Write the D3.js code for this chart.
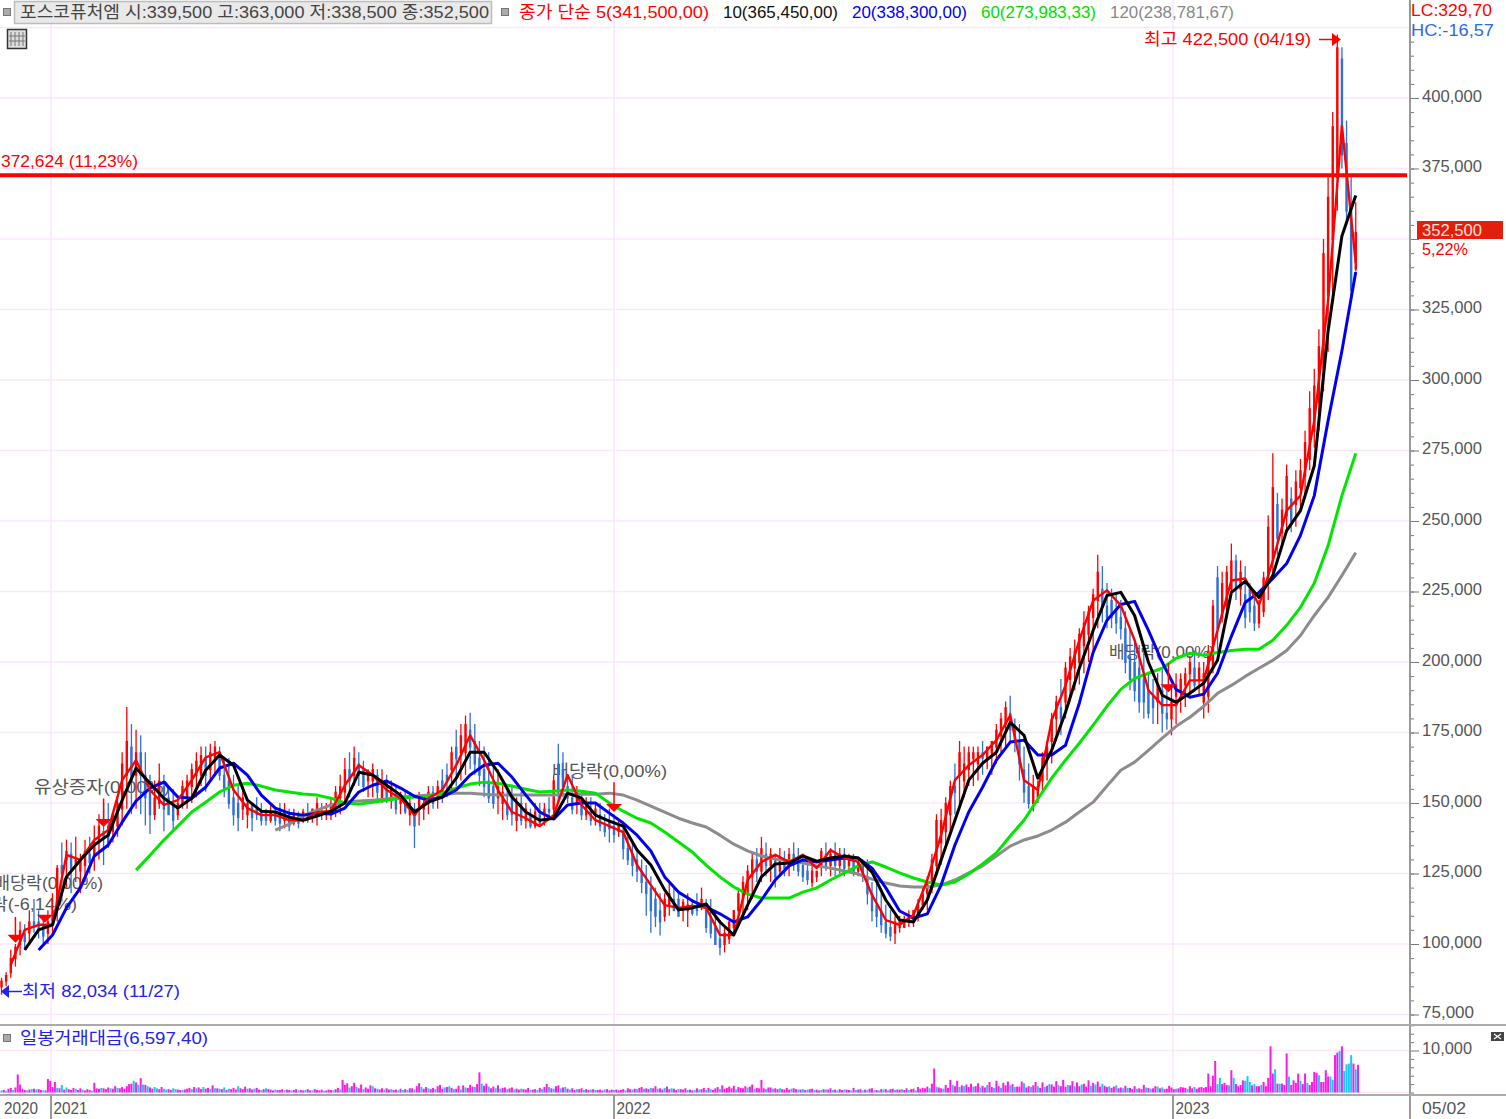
<!DOCTYPE html>
<html>
<head>
<meta charset="utf-8">
<script src="https://d3js.org/d3.v7.min.js"></script>
<style>
  body { margin: 0; background: #fff; }
  svg { display: block; }
  text { font-family: "Liberation Sans", "Noto Sans CJK KR", sans-serif; font-size: 17px; }
</style>
</head>
<body>
<svg id="chart" width="1506" height="1119"></svg>
<script>
// prices are in thousands of won, one candle every 3 calendar days
const highs = [
  88,90,98,100,108,107,112,116,112,110, 112,118,128,136,137,136,138,132,137,138,
  142,146,150,150,146,152,168,184,178,176, 174,168,160,158,164,160,156,155,152,158,
  160,164,168,170,170,171,172,170,166,166, 160,156,156,152,150,152,150,148,150,148,
  150,150,148,148,147,148,150,148,152,150, 150,152,156,160,166,168,170,168,165,162,
  164,162,162,160,158,156,154,154,152,150, 154,152,156,156,158,162,164,170,176,178,
  181,182,178,172,170,168,164,162,158,156, 156,152,154,150,148,150,150,150,152,160,
  171,168,160,160,156,154,152,152,150,150, 146,148,146,144,142,138,136,134,130,128,
  124,120,118,118,122,120,118,116,118,116, 118,120,116,116,112,108,106,108,112,120,
  124,128,132,134,138,136,134,132,134,133, 134,136,134,132,130,128,126,134,136,134,
  136,134,134,132,132,130,130,130,122,122, 118,114,112,110,110,110,112,112,116,120,
  124,132,146,148,152,158,164,172,170,170, 170,170,172,170,172,178,182,186,188,180,
  178,170,164,160,158,168,172,182,188,194, 200,205,208,212,218,220,226,238,234,228,
  226,224,222,218,212,208,206,204,196,194, 196,198,190,192,196,196,198,202,204,200,
  200,206,222,234,232,234,242,238,236,234, 228,224,222,232,252,274,260,258,270,262,
  268,272,282,296,304,318,350,372,395,422.5, 418,392,372,363
];
const lows = [
  82,85,88,92,96,98,100,104,102,100, 100,103,108,115,120,118,122,118,122,125,
  126,130,128,134,136,138,142,148,146,148, 146,142,139,144,148,140,146,140,144,148,
  148,150,152,156,154,158,160,158,152,148, 142,140,144,141,140,144,142,142,143,142,
  140,141,140,142,141,143,143,143,142,144, 144,144,145,146,150,152,156,156,154,152,
  152,150,150,150,148,146,146,146,142,134, 142,144,146,148,148,150,152,154,156,158,
  160,162,160,156,152,150,148,146,144,144, 142,140,142,141,141,141,142,142,144,146,
  150,152,150,146,146,144,144,142,142,140, 138,136,136,138,130,128,124,122,118,110,
  104,106,103,108,110,112,112,108,106,110, 110,112,104,102,100,96,97,100,104,108,
  110,112,116,122,122,124,122,120,124,124, 124,126,124,122,121,120,122,124,126,124,
  124,125,124,126,124,124,122,114,108,106, 104,102,101,100,104,106,106,106,108,112,
  112,118,124,128,134,140,146,148,152,156, 156,158,160,162,160,164,168,170,172,168,
  158,150,148,147,150,154,158,164,172,174, 180,186,190,192,196,200,204,212,214,212,
  212,210,208,196,190,186,182,180,180,178, 178,175,176,174,178,182,184,188,190,188,
  180,182,196,204,214,218,224,222,220,212, 214,211,212,216,222,232,238,242,246,246,
  248,254,258,268,276,282,296,310,330,360, 375,355,328,338.5
];
const opens = [
  85,87,90,95,100,104,104,108,108,107, 104,108,112,128,130,132,128,126,128,132,
  132,136,140,142,140,142,148,160,170,160, 168,160,155,146,150,156,152,150,146,150,
  152,156,160,160,166,162,166,166,160,158, 152,150,148,146,150,148,147,147,144,147,
  148,144,146,143,146,144,146,146,146,147, 146,146,148,152,154,162,160,164,162,158,
  158,160,152,158,152,154,150,152,146,148, 148,148,150,154,152,158,160,162,170,168,
  168,176,172,166,162,158,156,152,150,150, 152,144,150,144,146,142,146,146,148,148,
  164,162,156,152,150,150,146,148,146,146, 142,144,142,140,140,134,132,130,126,122,
  120,116,112,110,114,116,116,112,112,114, 114,114,112,110,106,102,100,102,106,112,
  116,118,124,130,126,132,128,130,126,130, 128,132,130,128,126,122,124,128,132,128,
  132,128,132,128,130,126,128,124,118,114, 112,108,106,104,106,106,108,108,110,114,
  118,122,128,136,140,146,156,160,158,162, 166,164,168,166,168,170,174,178,182,176,
  172,162,156,150,152,158,166,172,180,184, 186,194,198,200,206,210,216,222,226,220,
  222,218,216,212,202,200,198,194,190,188, 186,190,182,180,188,190,192,196,198,194,
  186,188,198,230,216,220,226,236,226,224, 226,220,214,218,228,236,256,246,252,258,
  256,262,266,272,282,292,304,330,350,372, 414,384,360,339.5
];
const closes = [
  87,89,95,99,105,101,108,106,105,103, 108,112,127,125,133,127,130,130,133,129,
  136,142,138,136,146,150,164,172,158,168, 160,152,146,152,158,148,146,144,150,156,
  158,162,165,167,160,168,170,160,155,150, 146,145,152,150,145,146,144,144,147,144,
  143,147,142,146,143,147,144,148,150,146, 147,150,154,156,162,158,166,160,156,160,
  162,154,158,152,156,148,152,147,150,142, 152,150,154,150,156,154,158,168,166,174,
  178,170,164,160,156,152,150,156,154,146, 146,150,144,148,142,147,143,148,147,158,
  154,156,152,148,154,146,150,144,148,142, 140,141,139,142,134,130,128,126,122,118,
  112,110,108,116,118,112,110,115,114,111, 112,116,106,104,100,99,104,108,112,118,
  122,126,130,126,134,128,132,124,131,127, 132,130,126,124,123,126,126,133,128,132,
  128,132,127,131,126,129,124,118,112,110, 107,104,103,108,108,109,110,112,114,118,
  122,130,144,144,150,156,154,168,164,168, 168,168,166,170,172,176,180,184,176,172,
  164,154,150,156,156,166,170,180,186,180, 198,202,204,210,214,218,224,232,220,216,
  216,214,212,200,194,190,186,186,182,184, 192,182,180,186,192,194,196,200,192,198,
  196,204,220,212,228,232,236,226,232,216, 218,214,220,230,248,262,244,254,266,250,
  264,268,278,290,298,312,345,365,390,418, 380,360,332,352.5
];

// moving averages, one reading every third candle (null until the average starts)
const ma5 = [
  92.6,105,106.8,106.8,131.6,129.8,136.9,140.4,158.1,165.2,
  154.6,149.3,151,158.1,166.2,168,154.6,148.2,145.7,145.7,
  143.9,143.9,146.8,147.1,156.3,163.4,159.9,154.6,151.7,145.7,
  151.7,154.6,163.4,174,165.2,154.6,146.8,144.6,141.8,145.7,
  159.9,149.3,143.9,141.8,139.7,128,120.9,113.8,112.8,113.5,
  112.8,103.2,103.2,122.7,129.1,131.6,129.1,131.6,126.9,133.3,
  130.5,129.1,117.4,108.5,106.8,110.3,122.7,138.6,158.1,163.4,
  167,172.3,181.1,158.1,154.6,179.3,191.7,207.7,221.8,225.4,
  220.1,207.7,190,184.7,184.7,193.5,193.5,211.2,228.9,229.6,
  220.1,236,253.7,259,285.6,328.1,390.1,341.5
];
const ma10 = [
  null,97.9,105,106.8,123.8,129.8,135.1,138.6,151,162.4,
  157,151.7,148.2,151.7,161.6,167,163.4,151,147.1,146.8,
  145,143.9,145.4,147.1,150,160.9,159.9,156.3,152.8,146.8,
  150.3,152.1,158.8,168,168,160.9,152.1,146.8,143.9,144.6,
  153.5,151.7,145.7,143.6,141.8,133.3,128,119.2,112.1,112.8,
  114.2,107.8,103.2,113.8,123.8,128.4,128.7,131.2,129.4,130.5,
  131.2,130.5,125.5,115.6,108.5,107.8,115.6,129.8,143.9,158.1,
  164.1,168,178.6,174,158.8,168.7,182.2,197.8,211.2,223.6,
  224.7,216.5,199.9,188.2,185.7,188.9,192.5,200.6,224.7,228.6,
  222.9,230.7,246.6,253.7,269.6,317.4,351.1,365.45
];
const ma20 = [
  null,null,97.9,103.2,112.8,119.9,131.2,135.1,143.2,150.7,
  155.3,157.4,152.1,151.7,155.6,162.4,164.1,159.9,152.8,148.2,
  146.4,145.7,146.4,146.1,148.2,153.9,156.3,157.8,155.3,152.4,
  151,152.1,154.6,159.9,163.4,164.1,159.2,152.8,146.8,144.3,
  149.3,150,150,146.4,142.9,138.6,133,123.8,118.4,115.3,
  113.1,110.7,107.8,109.6,115.6,122.7,127.7,129.8,129.1,129.8,
  130.5,130.5,126.9,119.9,111.7,109.2,110.7,120.9,135.1,146.8,
  155.6,165.2,171.6,172.3,167,167,170.5,185.4,203.4,214.8,
  220.4,221.5,211.2,199.9,190.3,187.5,188.6,196,209.1,221.1,
  224.7,229.6,234.9,244.9,259,285.6,310.4,338.3
];
const ma60 = [
  null,null,null,null,null,null,null,null,null,126.2,
  131.5,136.9,141.8,146.8,150.3,153.9,156.3,157,156,154.6,
  153.9,153.2,152.8,151.7,150,149.6,150.3,151,151.7,152.1,
  152.4,153.5,155.3,156.7,157.4,157,156,154.9,153.9,154.2,
  154.6,154.2,153.5,150,147.1,144.6,142.9,139.7,136.2,132.6,
  128,123.8,120.2,117.7,116.3,116.3,116.3,118.4,119.9,122.7,
  125.2,127.7,129.1,127.3,125.2,123.4,122,120.9,122,124.8,
  128.4,132.3,138.3,143.9,151.4,158.8,165.2,171.2,177.6,184.3,
  190.3,194.2,196,197.8,201.3,203.1,202.4,203.4,204.1,204.5,
  204.5,207.7,213,219.4,227.9,241.3,259,273.98
];
const ma120 = [
  null,null,null,null,null,null,null,null,null,null,
  null,null,null,null,null,null,null,null,null,140.4,
  142.5,145.4,147.5,149.3,150.3,150.7,151,151.4,152.1,152.4,
  152.8,153.1,153.5,153.5,153.1,152.8,152.8,152.8,152.8,152.8,
  153.1,153.1,153.1,153.5,152.8,151,148.9,146.8,144.6,142.9,
  141.5,138.6,135.4,133,131.2,130.1,129.4,128.7,127.7,126.9,
  125.9,124.8,123,121.6,120.6,120.2,120.2,120.9,122.7,125.2,
  127.7,131.2,134.7,136.9,138.3,140.4,143.2,146.8,150.3,156,
  161.6,164.5,168.7,173,177.2,180.4,184.3,188.9,191.7,194.9,
  197.8,200.6,204.1,209.4,216.5,222.9,230.7,238.78
];

// daily trading value, negative means a falling day (cyan bar)
const volumes = [
  -500,600,-400,900,1100,-600,1200,4300,1900,900,600,-500,700,-800,900,-700,800,600,-500,500,
  3200,2800,1300,2500,-1100,1000,-1800,700,-1200,800,600,1100,-900,600,1000,-700,500,800,600,-400,
  2300,1000,900,-1100,1000,800,1200,-1000,900,1500,-1100,1000,1300,900,1500,2000,2100,-2800,2400,-1800,
  3400,-1900,1800,-1500,1200,900,-1300,-1000,800,1300,-900,-700,800,600,-1000,-800,700,600,-600,700,
  900,1100,-800,1300,-1000,1200,800,-1300,900,1100,-800,1700,-1000,1000,-900,800,-1200,600,-900,800,
  1100,700,-1500,1000,800,1400,-900,1000,700,-900,1100,700,-600,800,-1000,800,700,500,-700,600,
  600,800,-500,700,600,-500,600,800,-500,600,500,-600,800,500,-500,800,600,500,700,-400,
  500,700,600,-500,800,1100,-700,3000,1800,2200,-1200,1500,2300,-1300,1000,1900,-800,1200,900,1700,
  -1500,1000,-900,700,1000,-700,1000,700,-800,600,700,-500,900,-600,800,-600,1000,1000,-700,1500,
  2200,-1300,900,1300,-1000,800,1100,-800,1500,1800,900,-1200,1300,-1500,1100,-800,900,1600,-700,1700,
  -1200,1100,1800,1400,-1300,2000,4800,-2100,1600,2100,-1400,1000,1400,-1000,1700,-900,1100,1200,-800,1000,
  1200,-700,900,700,-900,800,700,1100,-600,700,800,-600,1100,-800,1300,2000,-1300,1000,-900,1500,
  1700,-1000,1200,-1300,900,-700,1000,600,-800,800,1000,-600,800,600,-700,800,-600,600,700,500,
  -700,800,500,700,-600,700,500,600,800,-500,1000,800,-700,900,-800,1100,1300,-900,1000,800,
  -1100,1000,1500,-900,1000,700,-1100,1400,800,-1000,900,600,-800,800,700,1000,-600,700,500,-600,
  1000,-700,800,1100,-600,1100,-800,600,1000,1300,-800,1700,900,1100,1400,1000,1600,-700,1300,1100,
  1000,1500,-1200,1400,1900,-900,1100,1000,3000,1000,-800,1200,1200,-900,1000,800,-1000,800,700,1100,
  700,-900,1000,800,-700,700,-800,600,-700,800,900,-600,700,500,-600,800,-700,700,1000,-600,
  700,-500,800,600,-700,700,600,-500,1100,-600,700,800,-500,700,-600,900,1000,-500,600,-500,
  800,-700,800,-500,800,900,-600,700,700,-800,600,1000,-600,800,900,-500,1300,900,1100,1000,
  1400,-1000,2100,5700,-1400,1200,1000,-900,1800,1100,3000,-1800,1500,2800,-1300,1700,-1500,1900,1300,2100,
  -1400,1500,2200,-1200,1600,1200,-1800,2500,1300,-1100,2800,1500,-1100,2300,1700,2600,-1700,2000,-1300,1400,
  1400,2600,-2200,1200,1500,-1300,1700,2500,-1500,1100,2400,-1300,1600,-2000,1900,1400,2700,-1700,1500,3000,
  1400,-1800,1700,2700,-1500,2400,1500,-1900,2100,1400,2900,-1600,2300,-1900,2600,1400,-2100,1600,1300,-1500,
  1100,1400,-1700,1000,1200,-1000,1600,-1100,1100,800,1500,-900,1000,800,1800,-1200,1100,-900,1000,1500,
  -1400,1000,-1200,800,900,1600,1200,800,-900,1000,1300,1200,1100,-800,1500,1000,-1300,900,1200,1300,
  1100,1300,4500,1500,4000,7500,-2000,-3500,2000,2300,1800,-1700,5300,-3500,2000,1500,1800,2900,-2800,-3900,
  -2500,1700,-2000,1500,1500,-1800,2500,1500,3500,11000,4500,-5500,2100,-2100,2100,1800,9300,-3800,1800,2900,
  2300,4500,-2800,2000,4500,-2300,1800,2500,4900,4700,-4100,2500,2500,5300,3800,-3800,-3000,8900,9500,-9900,
  11000,-5100,-6700,-6900,-8900,6900,-5500,6597
];

const priceTicks = [75,100,125,150,175,200,225,250,275,300,325,350,375,400];
const priceGrid = [75,100,125,150,175,200,225,250,275,300,325,350,375,400,425];
const priceMinorTicks = d3.range(75, 425, 5);
const volumeTicks = [10000];
const volumeMinorTicks = [0,2000,4000,6000,8000,12000,14000,16000];
const yearDates = [new Date(2021,0,4), new Date(2022,0,3), new Date(2023,0,2)];
const yearLabels = ["2020","2021","2022","2023"];
const firstBar = new Date(2020,11,3);

// ex-dividend / rights markers: candle position, arrow tip and arrow tail prices
const markerBars = [3, 9.5, 22, 132, 252.5];
const markerTips = [100.4, 107.5, 141.5, 146.8, 189.3];
const markerTails = [109.6, 109.6, 151.6, 157.4, 199.6];

const resistance = 372.624;

const svg = d3.select("#chart");
const x = d3.scaleTime().domain(yearDates).range([51, 614, 1173]);
const y = d3.scaleLinear().domain([75, 400]).range([1014.5, 98]);
const vy = d3.scaleLinear().domain([0, 10000]).range([1092.5, 1050.5]);

const barDate = i => d3.timeDay.offset(firstBar, 3 * i);
const fmt = d3.format(",");
const RED = "#ff0000", DOWN = "#2f6fd8", TXT = "#555", GRID = "#fce6fc";

function label(px, py, str, color, width) {
  const t = svg.append("text").attr("x", px).attr("y", py).attr("fill", color).text(str);
  if (width) t.attr("textLength", width).attr("lengthAdjust", "spacingAndGlyphs");
  return t;
}

// grid
svg.selectAll(".hgrid").data(priceGrid).enter().append("line")
  .attr("x1", 0).attr("x2", 1410)
  .attr("y1", d => y(d)).attr("y2", d => y(d))
  .attr("stroke", GRID).attr("stroke-width", 1.5);
svg.selectAll(".vgridv").data([0, 10000]).enter().append("line")
  .attr("x1", 0).attr("x2", 1410)
  .attr("y1", d => vy(d)).attr("y2", d => vy(d))
  .attr("stroke", GRID).attr("stroke-width", 1.5);
svg.selectAll(".vgrid").data(yearDates).enter().append("line")
  .attr("x1", d => x(d)).attr("x2", d => x(d))
  .attr("y1", 0).attr("y2", 1095)
  .attr("stroke", GRID).attr("stroke-width", 1.5);

// header
svg.append("rect").attr("x", 14.5).attr("y", 1.5).attr("width", 477).attr("height", 22)
  .attr("fill", "#e9e9e9").attr("stroke", "#bdbdbd").attr("stroke-width", 1.5);
label(20, 18, "포스코퓨처엠 시:339,500 고:363,000 저:338,500 종:352,500", "#444", 469);
[[7, 12], [505, 12], [7, 1038]].forEach(p => {
  svg.append("rect").attr("x", p[0] - 3.5).attr("y", p[1] - 3.5).attr("width", 7).attr("height", 7)
    .attr("fill", "#aaa").attr("stroke", "#777");
});
label(519, 18, "종가 단순 5(341,500,00)", RED, 190);
label(723, 18, "10(365,450,00)", "#111", 115);
label(852, 18, "20(338,300,00)", "#0000ee", 115);
label(981, 18, "60(273,983,33)", "#00dd00", 115);
label(1110, 18, "120(238,781,67)", "#888", 124);
label(1411, 16, "LC:329,70", RED, 81);
label(1411, 36, "HC:-16,57", "#2a6cdc", 83);

// table icon
svg.append("rect").attr("x", 7.5).attr("y", 29.5).attr("width", 19).attr("height", 19)
  .attr("fill", "#ddd").attr("stroke", "#333").attr("stroke-width", 1.5);
[11, 15, 19, 23].forEach(v => {
  svg.append("line").attr("x1", v).attr("x2", v).attr("y1", 32).attr("y2", 46).attr("stroke", "#777");
});
[36, 41].forEach(v => {
  svg.append("line").attr("x1", 9).attr("x2", 25).attr("y1", v).attr("y2", v).attr("stroke", "#777");
});

// annotations sit under the candles
label(34, 793, "유상증자(0,00%)", TXT, 136);
label(552, 777, "배당락(0,00%)", TXT, 115);
label(-6, 889, "배당락(0,00%)", TXT, 109);
label(-42, 910, "권리락(-6,14%)", TXT, 119);
label(1109, 658, "배당락(0,00%)", TXT, 106);

// candles
const bars = highs.map((h, i) => ({ i, h, l: lows[i], o: opens[i], c: closes[i] }));
const barColor = d => d.c >= d.o ? RED : DOWN;
svg.selectAll(".wick").data(bars).enter().append("line")
  .attr("x1", d => x(barDate(d.i))).attr("x2", d => x(barDate(d.i)))
  .attr("y1", d => y(d.h)).attr("y2", d => y(d.l))
  .attr("stroke", barColor).attr("stroke-width", 1.3);
svg.selectAll(".body").data(bars).enter().append("rect")
  .attr("x", d => x(barDate(d.i)) - 1.2)
  .attr("width", 2.4)
  .attr("y", d => y(Math.max(d.o, d.c)))
  .attr("height", d => Math.abs(y(d.o) - y(d.c)) + 1)
  .attr("fill", barColor);

// moving averages
const maLine = d3.line()
  .defined(d => d != null)
  .x((d, j) => x(barDate(2 + 3 * j)))
  .y(d => y(d));
[[ma120, "#8c8c8c", 3], [ma60, "#00e600", 3], [ma20, "#0000ee", 3], [ma5, RED, 2.4], [ma10, "#000", 3]].forEach(s => {
  svg.append("path").attr("d", maLine(s[0]))
    .attr("fill", "none").attr("stroke", s[1]).attr("stroke-width", s[2])
    .attr("stroke-linejoin", "round");
});

// markers
markerBars.forEach((b, k) => {
  const mx = x(barDate(b));
  svg.append("line").attr("x1", mx).attr("x2", mx)
    .attr("y1", y(markerTails[k])).attr("y2", y(markerTips[k]) - 4)
    .attr("stroke", RED).attr("stroke-width", 1.5);
  svg.append("path")
    .attr("d", `M${mx - 8},${y(markerTips[k]) - 8}L${mx + 8},${y(markerTips[k]) - 8}L${mx},${y(markerTips[k])}Z`)
    .attr("fill", RED);
});

// resistance line
svg.append("line").attr("x1", 0).attr("x2", 1407)
  .attr("y1", y(resistance)).attr("y2", y(resistance))
  .attr("stroke", RED).attr("stroke-width", 4);
label(1, 167, "372,624 (11,23%)", RED, 137);

// high / low callouts
label(1144, 45, "최고 422,500 (04/19)", RED, 167);
svg.append("line").attr("x1", 1319).attr("x2", 1334).attr("y1", 39.5).attr("y2", 39.5).attr("stroke", RED).attr("stroke-width", 1.5);
svg.append("path").attr("d", "M1332,33L1341,39.5L1332,46Z").attr("fill", RED);
label(22, 997, "최저 82,034 (11/27)", "#2222ee", 158);
svg.append("line").attr("x1", 6).attr("x2", 22).attr("y1", 991.5).attr("y2", 991.5).attr("stroke", "#2222ee").attr("stroke-width", 1.5);
svg.append("path").attr("d", "M1,991.5L9,985L9,998Z").attr("fill", "#2222ee");

// volume
svg.selectAll(".vol").data(volumes).enter().append("rect")
  .attr("x", (d, k) => x(d3.timeHour.offset(firstBar, 36 * k)) - 1)
  .attr("width", 2)
  .attr("y", d => vy(Math.abs(d)))
  .attr("height", d => vy(0) - vy(Math.abs(d)))
  .attr("fill", d => d < 0 ? "#19c8f5" : "#ff19e6");
label(20, 1044, "일봉거래대금(6,597,40)", "#2222ee", 188);

// right axes, the 350,000 label is covered by the last price tag
const priceAxis = d3.axisRight(y)
  .tickValues(priceTicks)
  .tickSize(9)
  .tickPadding(3)
  .tickFormat(d => d === 350 ? "" : fmt(d * 1000));
const priceMinor = d3.axisRight(y).tickValues(priceMinorTicks).tickSize(4).tickFormat("");
const volAxis = d3.axisRight(vy).tickValues(volumeTicks).tickSize(9).tickPadding(3).tickFormat(fmt);
const volMinor = d3.axisRight(vy).tickValues(volumeMinorTicks).tickSize(4).tickFormat("");
[priceMinor, priceAxis, volMinor, volAxis].forEach(a => {
  const g = svg.append("g").attr("transform", "translate(1410,0)").call(a);
  g.select(".domain").remove();
  g.selectAll("line").attr("stroke", "#777");
  g.selectAll("text").attr("fill", TXT).attr("dy", "0.2em");
  g.selectAll("text").filter(function() { return this.textContent.length === 7; })
    .attr("textLength", 60).attr("lengthAdjust", "spacingAndGlyphs");
  g.attr("font-size", null).attr("font-family", null);
});
svg.selectAll("g text").filter(function() { return this.textContent === "10,000"; })
  .attr("textLength", 50).attr("lengthAdjust", "spacingAndGlyphs");

// panel borders
svg.append("line").attr("x1", 1410).attr("x2", 1410).attr("y1", 0).attr("y2", 1119).attr("stroke", "#999").attr("stroke-width", 2);
svg.append("line").attr("x1", 0).attr("x2", 1506).attr("y1", 1025).attr("y2", 1025).attr("stroke", "#aaa").attr("stroke-width", 2);
svg.append("line").attr("x1", 0).attr("x2", 1506).attr("y1", 1095).attr("y2", 1095).attr("stroke", "#aaa").attr("stroke-width", 2);

// last price tag
svg.append("rect").attr("x", 1417).attr("y", 221).attr("width", 86).attr("height", 18).attr("fill", "#e41e0c");
label(1422, 236, "352,500", "#ffe0d8", 60);
label(1422, 255, "5,22%", RED, 46);

// swap icon of the volume pane
svg.append("rect").attr("x", 1491).attr("y", 1032).attr("width", 13).attr("height", 9).attr("fill", "#444");
svg.append("path").attr("d", "M1494,1034L1501,1039M1494,1039L1501,1034").attr("stroke", "#fff").attr("stroke-width", 1.2);

// date axis
svg.selectAll(".xtick").data(yearDates).enter().append("line")
  .attr("x1", d => x(d)).attr("x2", d => x(d))
  .attr("y1", 1095).attr("y2", 1119)
  .attr("stroke", "#999").attr("stroke-width", 2);
[firstBar].concat(yearDates).forEach((d, i) => {
  label(x(d) + 2.5, 1114, yearLabels[i], TXT, 34);
});
label(1422, 1114, "05/02", TXT, 44);
</script>
</body>
</html>
